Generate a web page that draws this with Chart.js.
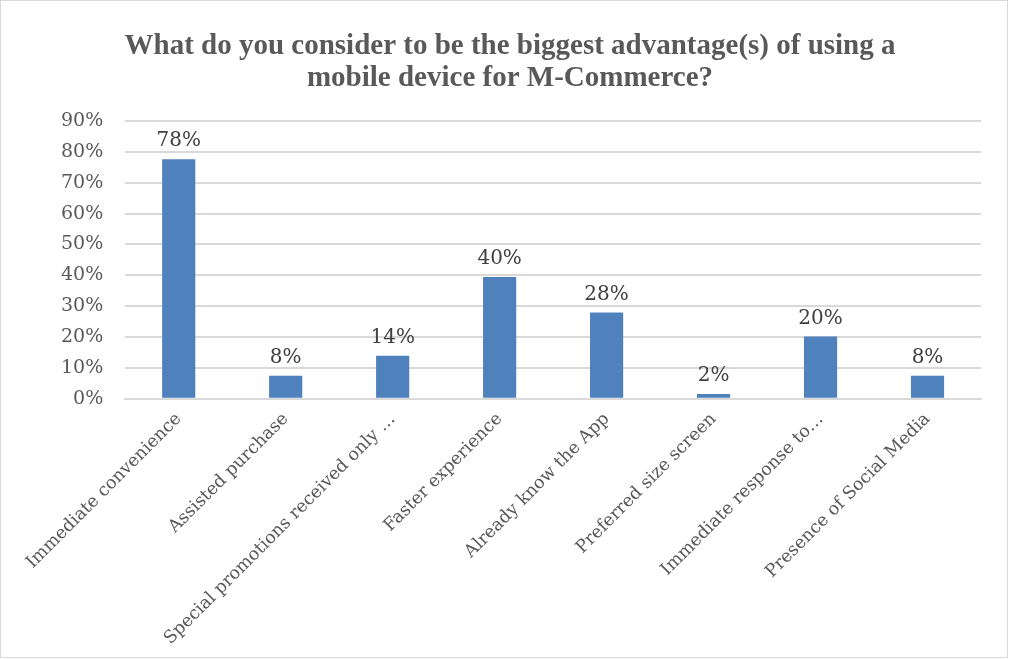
<!DOCTYPE html>
<html>
<head>
<meta charset="utf-8">
<script src="https://cdn.jsdelivr.net/npm/chart.js@4"></script>
<style>
  html, body { margin: 0; padding: 0; background: #fff; }
  #wrap { position: absolute; left: 0; top: 0; width: 1006px; height: 656px; border: 1px solid #d9d9d9; }
</style>
</head>
<body>
<div id="wrap"><canvas id="grafico"></canvas></div>
<script>
// categorias y valores (porcentaje de encuestados)
const categorias = ['Immediate convenience', 'Assisted purchase', 'Special promotions received only …',
  'Faster experience', 'Already know the App', 'Preferred size screen', 'Immediate response to…',
  'Presence of Social Media'];
const valores = [77.6, 7.5, 14, 39.5, 28, 1.6, 20.2, 7.5];
const ticksY = [0, 10, 20, 30, 40, 50, 60, 70, 80, 90];
const titulo = ['What do you consider to be the biggest advantage(s) of using a', 'mobile device for M-Commerce?'];

// etiquetas encima de cada barra
const etiquetasBarras = {
  id: 'etiquetasBarras',
  afterDatasetsDraw(chart) {
    const ctx = chart.ctx;
    const meta = chart.getDatasetMeta(0);
    ctx.save();
    ctx.font = '20px "DejaVu Serif"';
    ctx.fillStyle = '#404040';
    ctx.textAlign = 'center';
    ctx.textBaseline = 'bottom';
    meta.data.forEach(function(bar, i) {
      ctx.fillText(Math.round(valores[i]) + '%', bar.x, bar.y - 8);
    });
    ctx.restore();
  }
};

var ctx = document.getElementById('grafico').getContext('2d');
var grafico = new Chart(ctx, {
  type: 'bar',
  data: {
    labels: categorias,
    datasets: [{
      data: valores,
      backgroundColor: '#4F81BD',
      borderWidth: 0,
      barPercentage: 0.62,
      categoryPercentage: 0.5
    }]
  },
  options: {
    responsive: true,
    maintainAspectRatio: false,
    animation: false,
    layout: { padding: { left: 38, right: 26, top: 14, bottom: 6 } },
    plugins: {
      legend: { display: false },
      tooltip: { enabled: false },
      title: {
        display: true,
        text: titulo,
        color: '#595959',
        font: { family: '"Liberation Serif"', size: 29, weight: 'bold', lineHeight: 1.12 },
        padding: { top: 15, bottom: 26 }
      }
    },
    scales: {
      y: {
        min: 0,
        max: 90,
        afterBuildTicks: function(axis) {
          axis.ticks = ticksY.map(function(v) { return { value: v }; });
        },
        grid: { color: '#d9d9d9', lineWidth: 2, drawTicks: false },
        border: { display: false },
        ticks: {
          color: '#595959',
          padding: 22,
          font: { family: '"DejaVu Serif"', size: 19 },
          callback: function(v) { return v + '%'; }
        }
      },
      x: {
        grid: { display: false },
        border: { color: '#d9d9d9', width: 2 },
        ticks: {
          color: '#595959',
          autoSkip: false,
          maxRotation: 45,
          minRotation: 45,
          padding: 2,
          font: { family: '"DejaVu Serif"', size: 17.5 }
        }
      }
    }
  },
  plugins: [etiquetasBarras]
});
</script>
</body>
</html>
